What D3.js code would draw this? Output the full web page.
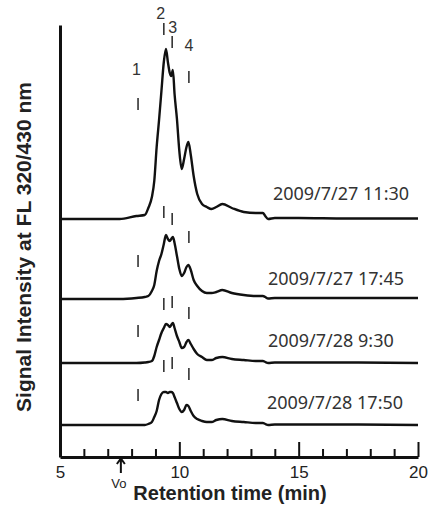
<!DOCTYPE html>
<html>
<head>
<meta charset="utf-8">
<script src="https://cdn.jsdelivr.net/npm/d3@7"></script>
<style>
  html, body { margin: 0; padding: 0; background: #fff; }
  svg { display: block; }
</style>
</head>
<body>
<svg id="chart" width="432" height="506"></svg>
<script>
// ---------- DATA ----------
const retentionTime = [5, 7.5, 8.2, 8.55, 8.7, 8.85, 8.95, 9.05, 9.15, 9.25, 9.35, 9.44, 9.52, 9.6, 9.66, 9.73, 9.8, 9.9, 10.0, 10.1, 10.2, 10.3, 10.38, 10.48, 10.6, 10.75, 10.95, 11.15, 11.35, 11.55, 11.8, 12.2, 12.7, 13.2, 13.5, 13.6, 13.72, 14.0, 15, 17, 20];

const signal_0727_1130 = [0, 0, 3, 4, 11, 22, 38, 72, 99, 128, 157, 170, 157, 146, 143, 149, 125, 100, 68, 50, 60, 72, 77, 64, 43, 25, 15, 12, 10, 12, 15, 11, 7, 6, 6, 3, 0, 1, 1, 0.5, 0.5];
const signal_0727_1745 = [0, 0, 1, 2, 3, 8, 14, 28, 38, 45, 55, 64, 60, 58, 60, 62, 56, 43, 30, 23, 26, 32, 34, 29, 19, 13, 8, 6, 6, 7, 9, 6, 4, 3, 3, 2, 0.5, 1, 1, 1, 1];
const signal_0728_0930 = [0, 0, 0, 0.5, 1, 2, 7, 16, 23, 30, 35, 39, 38, 36, 38, 40, 35, 27, 21, 15, 16, 21, 23, 19, 14, 9, 6, 3, 3, 5, 6, 4, 3, 2, 2, 1, 0, 0.5, 0.5, 0.5, 0];
const signal_0728_1750 = [0, 0, 0, 0, 1, 3, 8, 14, 25, 31, 33, 33, 32, 33, 33, 32, 28, 22, 16, 13, 15, 20, 19, 14, 9, 6, 4, 3, 3, 5, 6, 4, 3, 2, 2, 1, 0, 0.5, 0.5, 0.5, 0];

const sampleLabels = ["2009/7/27 11:30", "2009/7/27 17:45", "2009/7/28 9:30", "2009/7/28 17:50"];
const traceOffsets = [238, 158, 94, 32];          // vertical stacking offset (signal units)
const sampleLabelHeight = [19, 14, 16, 16];       // label baseline above trace baseline
const sampleLabelTime = [13.92, 13.71, 13.71, 13.67];

const peakNames = ["1", "2", "3", "4"];
const peakTimes = [8.27, 9.35, 9.7, 10.4];
const peakMarkHeights = [
  [109, 184, 171, 136],
  [32, 81, 74, 56],
  [26, 53, 55, 44],
  [24, 53, 56, 45]
];
const peakNameTimes = [8.2, 9.22, 9.72, 10.4];
const peakNameHeights = [150, 206, 192, 174];

const xTicksMajor = [5, 10, 15, 20];
const xTicksMinor = [6, 7, 8, 9, 11, 12, 13, 14, 16, 17, 18, 19];
const voidTime = 7.55;

// ---------- CHART ----------
const svg = d3.select("#chart");
const x = d3.scaleLinear().domain([5, 20]).range([60, 418]);
const y = d3.scaleLinear().domain([0, 432]).range([457, 25]);

const series = [signal_0727_1130, signal_0727_1745, signal_0728_0930, signal_0728_1750];

const line = d3.line()
  .x(d => x(d[0]))
  .y(d => y(d[1]))
  .curve(d3.curveMonotoneX);

series.forEach((vals, i) => {
  const pts = retentionTime.map((t, j) => [t, vals[j] + traceOffsets[i]]);
  svg.append("path")
    .attr("d", line(pts))
    .attr("fill", "none")
    .attr("stroke", "#111")
    .attr("stroke-width", 2.4)
    .attr("stroke-linejoin", "round");

  // sample labels
  svg.append("text")
    .attr("x", x(sampleLabelTime[i]))
    .attr("y", y(traceOffsets[i] + sampleLabelHeight[i]))
    .attr("font-family", "'Noto Sans', 'DejaVu Sans', sans-serif")
    .attr("font-size", 18)
    .attr("fill", "#333")
    .text(sampleLabels[i]);

  // peak markers
  peakTimes.forEach((pt, k) => {
    const base = traceOffsets[i] + peakMarkHeights[i][k];
    svg.append("line")
      .attr("x1", x(pt)).attr("x2", x(pt))
      .attr("y1", y(base)).attr("y2", y(base + 12))
      .attr("stroke", "#333")
      .attr("stroke-width", 1.6);
  });
});

// peak names
peakNames.forEach((n, k) => {
  svg.append("text")
    .attr("x", x(peakNameTimes[k]))
    .attr("y", y(traceOffsets[0] + peakNameHeights[k]))
    .attr("dy", "0.36em")
    .attr("text-anchor", "middle")
    .attr("font-family", "'Liberation Sans', Arial, sans-serif")
    .attr("font-size", 16)
    .attr("fill", "#333")
    .text(n);
});

// Axes
const yAxis = d3.axisLeft(y).tickValues([]).tickSizeOuter(0);
svg.append("g").attr("transform", "translate(60,0)").call(yAxis)
  .call(g => g.select(".domain").attr("stroke", "#111").attr("stroke-width", 3));

const xMinor = d3.axisBottom(x).tickValues(xTicksMinor).tickSizeInner(-8).tickSizeOuter(0).tickFormat("");
svg.append("g").attr("transform", "translate(0,457)").call(xMinor)
  .call(g => g.select(".domain").remove())
  .call(g => g.selectAll(".tick line").attr("stroke", "#111").attr("stroke-width", 2));

const xMajor = d3.axisBottom(x).tickValues(xTicksMajor).tickSizeInner(-15).tickSizeOuter(0).tickPadding(9).tickFormat(d3.format("d"));
svg.append("g").attr("transform", "translate(0,457)").call(xMajor)
  .call(g => g.select(".domain").attr("stroke", "#111").attr("stroke-width", 3))
  .call(g => g.selectAll(".tick line").attr("stroke", "#111").attr("stroke-width", 2).filter(d => d === 5).remove())
  .call(g => g.selectAll(".tick text")
    .attr("font-family", "'Liberation Sans', Arial, sans-serif")
    .attr("font-size", 17)
    .attr("fill", "#222"));

// Vo arrow
const vx = x(voidTime);
svg.append("path")
  .attr("d", `M${vx},473 V459 M${vx - 4},464 L${vx},458.5 L${vx + 4},464`)
  .attr("fill", "none")
  .attr("stroke", "#111")
  .attr("stroke-width", 2);
svg.append("text")
  .attr("x", vx - 2)
  .attr("y", 488)
  .attr("text-anchor", "middle")
  .attr("font-family", "'Liberation Sans', Arial, sans-serif")
  .attr("font-size", 13)
  .attr("fill", "#222")
  .text("Vo");

// Axis titles
svg.append("text")
  .attr("x", 230)
  .attr("y", 500)
  .attr("text-anchor", "middle")
  .attr("font-family", "'Liberation Sans', Arial, sans-serif")
  .attr("font-weight", "bold")
  .attr("font-size", 20)
  .attr("fill", "#222")
  .text("Retention time (min)");

svg.append("text")
  .attr("transform", "translate(31,247) rotate(-90)")
  .attr("text-anchor", "middle")
  .attr("font-family", "'Liberation Sans', Arial, sans-serif")
  .attr("font-weight", "bold")
  .attr("font-size", 21)
  .attr("fill", "#222")
  .text("Signal Intensity at FL 320/430 nm");
</script>
</body>
</html>
